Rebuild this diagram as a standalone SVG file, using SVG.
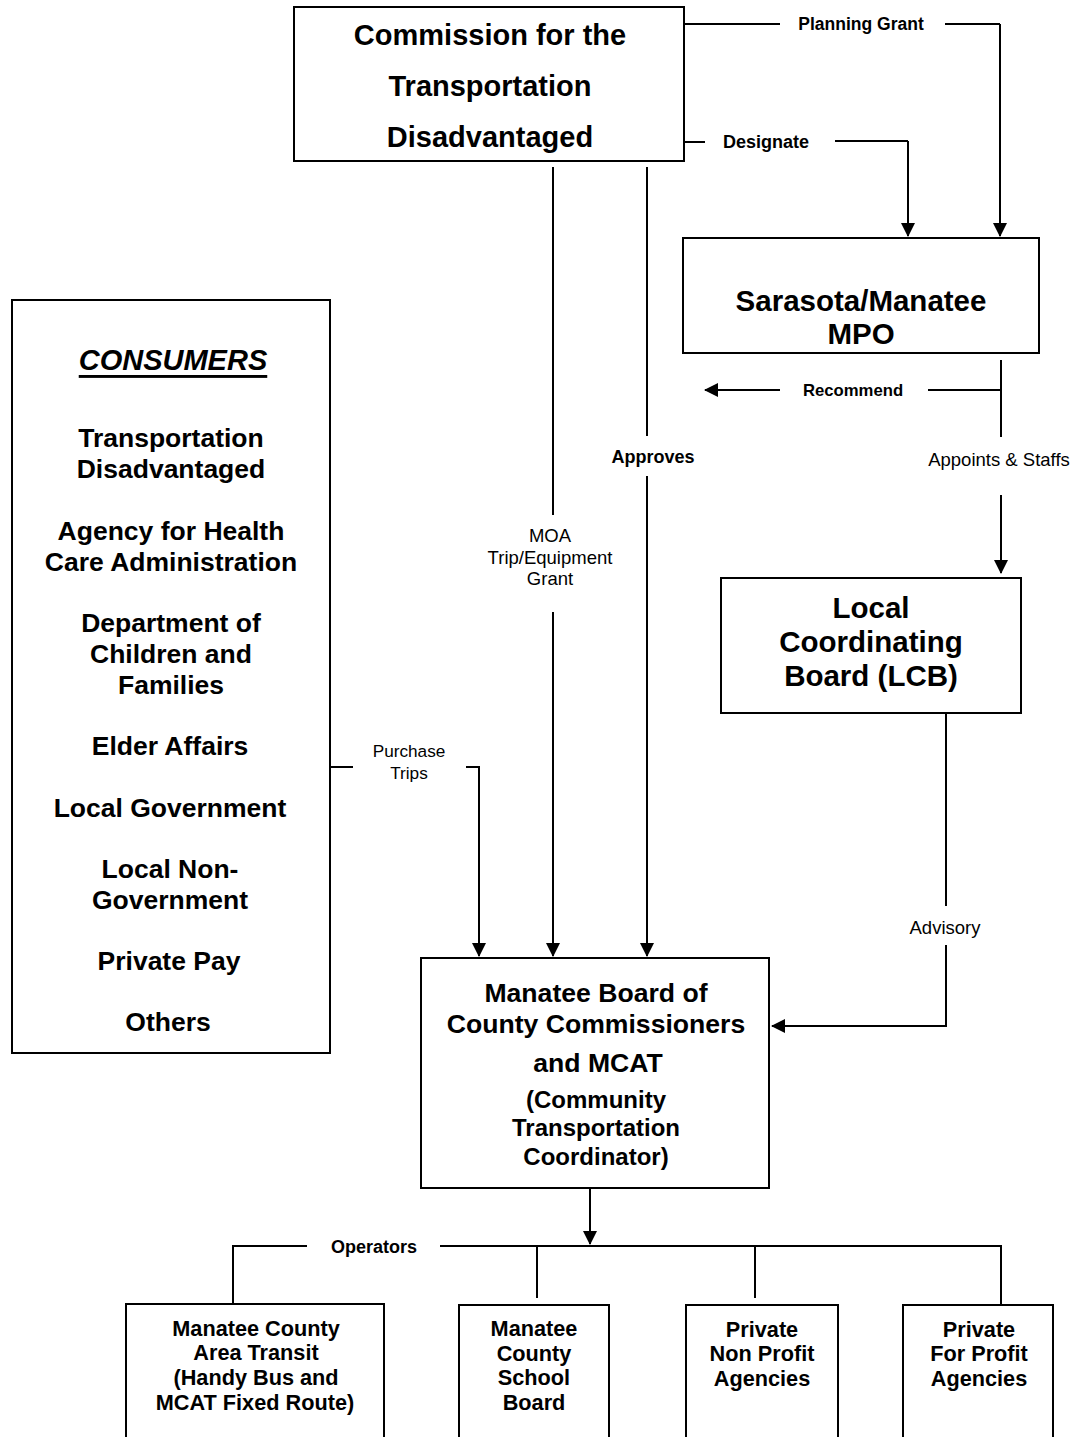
<svg xmlns="http://www.w3.org/2000/svg" width="1075" height="1437" viewBox="0 0 1075 1437">
<defs>
<marker id="ah" markerWidth="14" markerHeight="14" viewBox="0 0 14 14" refX="13" refY="7" orient="auto" markerUnits="userSpaceOnUse">
<path d="M0,0 L14,7 L0,14 Z" fill="#000"/>
</marker>
</defs>
<style>
.box{fill:#fff;stroke:#000;stroke-width:2}
.ln{fill:none;stroke:#000;stroke-width:2}
.t{font-family:"Liberation Sans",Arial,sans-serif;font-weight:bold;text-anchor:middle;dominant-baseline:central;fill:#000}
.r{font-family:"Liberation Sans",Arial,sans-serif;text-anchor:middle;dominant-baseline:central;fill:#000}
</style>
<rect width="1075" height="1437" fill="#fff"/>
<g id="connectors">
<path class="ln" d="M684,24 H780 M945,24 H1000"/>
<path class="ln" d="M1000,24 V236" marker-end="url(#ah)"/>
<path class="ln" d="M684,142 H705 M835,141 H908"/>
<path class="ln" d="M908,141 V236" marker-end="url(#ah)"/>
<path class="ln" d="M780,390 H705" marker-end="url(#ah)"/>
<path class="ln" d="M928,390 H1001 M1001,360 V437"/>
<path class="ln" d="M1001,495 V573" marker-end="url(#ah)"/>
<path class="ln" d="M946,713 V906"/>
<path class="ln" d="M946,945 V1026 H772" marker-end="url(#ah)"/>
<path class="ln" d="M330,767 H353"/>
<path class="ln" d="M466,767 H479 V956" marker-end="url(#ah)"/>
<path class="ln" d="M553,167 V515"/>
<path class="ln" d="M553,612 V956" marker-end="url(#ah)"/>
<path class="ln" d="M647,167 V436"/>
<path class="ln" d="M647,476 V956" marker-end="url(#ah)"/>
<path class="ln" d="M590,1188 V1244" marker-end="url(#ah)"/>
<path class="ln" d="M440,1246 H1001 V1305 M233,1304 V1246 H307 M537,1246 V1298 M755,1246 V1298"/>
<text class="t" x="861" y="24" font-size="17.5">Planning Grant</text>
<text class="t" x="766" y="142" font-size="18">Designate</text>
<text class="t" x="853" y="390" font-size="16.7">Recommend</text>
<text class="r" x="999" y="459" font-size="18.5">Appoints &amp; Staffs</text>
<text class="r" x="945" y="927" font-size="18.5">Advisory</text>
<text class="r" x="409" y="751" font-size="17.2">Purchase</text>
<text class="r" x="409" y="773" font-size="17.2">Trips</text>
<text class="r" x="550" y="535" font-size="18.5">MOA</text>
<text class="r" x="550" y="557" font-size="18.5">Trip/Equipment</text>
<text class="r" x="550" y="578" font-size="18.5">Grant</text>
<text class="t" x="653" y="457" font-size="18">Approves</text>
<text class="t" x="374" y="1247" font-size="18">Operators</text>
</g>
<g id="ctd">
<rect class="box" x="294" y="7" width="390" height="154"/>
<text class="t" x="490" y="35" font-size="29">Commission for the</text>
<text class="t" x="490" y="86" font-size="29">Transportation</text>
<text class="t" x="490" y="137" font-size="29">Disadvantaged</text>
</g>
<g id="mpo">
<rect class="box" x="683" y="238" width="356" height="115"/>
<text class="t" x="861" y="300" font-size="29.5">Sarasota/Manatee</text>
<text class="t" x="861" y="333" font-size="29.5">MPO</text>
</g>
<g id="lcb">
<rect class="box" x="721" y="578" width="300" height="135"/>
<text class="t" x="871" y="607" font-size="29.5">Local</text>
<text class="t" x="871" y="641" font-size="29.5">Coordinating</text>
<text class="t" x="871" y="675" font-size="29.5">Board (LCB)</text>
</g>
<g id="consumers">
<rect class="box" x="12" y="300" width="318" height="753"/>
<text class="t" x="173" y="360" font-size="29" font-style="italic" text-decoration="underline">CONSUMERS</text>
<text class="t" x="171" y="438" font-size="26.5">Transportation</text>
<text class="t" x="171" y="469" font-size="26.5">Disadvantaged</text>
<text class="t" x="171" y="531" font-size="26.5">Agency for Health</text>
<text class="t" x="171" y="562" font-size="26.5">Care Administration</text>
<text class="t" x="171" y="623" font-size="26.5">Department of</text>
<text class="t" x="171" y="654" font-size="26.5">Children and</text>
<text class="t" x="171" y="685" font-size="26.5">Families</text>
<text class="t" x="170" y="746" font-size="26.5">Elder Affairs</text>
<text class="t" x="170" y="808" font-size="26.5">Local Government</text>
<text class="t" x="170" y="869" font-size="26.5">Local Non-</text>
<text class="t" x="170" y="900" font-size="26.5">Government</text>
<text class="t" x="169" y="961" font-size="26.5">Private Pay</text>
<text class="t" x="168" y="1022" font-size="26.5">Others</text>
</g>
<g id="ctc">
<rect class="box" x="421" y="958" width="348" height="230"/>
<text class="t" x="596" y="993" font-size="26.6">Manatee Board of</text>
<text class="t" x="596" y="1024" font-size="26.6">County Commissioners</text>
<text class="t" x="598" y="1063" font-size="26.6">and MCAT</text>
<text class="t" x="596" y="1099" font-size="24">(Community</text>
<text class="t" x="596" y="1127" font-size="24">Transportation</text>
<text class="t" x="596" y="1156" font-size="24">Coordinator)</text>
</g>
<g id="mcat">
<rect class="box" x="126" y="1304" width="258" height="140"/>
<text class="t" x="256" y="1328" font-size="21.7">Manatee County</text>
<text class="t" x="256" y="1352" font-size="21.7">Area Transit</text>
<text class="t" x="256" y="1377" font-size="21.7">(Handy Bus and</text>
<text class="t" x="255" y="1402" font-size="21.7">MCAT Fixed Route)</text>
</g>
<g id="school">
<rect class="box" x="459" y="1305" width="150" height="140"/>
<text class="t" x="534" y="1328" font-size="21.7">Manatee</text>
<text class="t" x="534" y="1353" font-size="21.7">County</text>
<text class="t" x="534" y="1377" font-size="21.7">School</text>
<text class="t" x="534" y="1402" font-size="21.7">Board</text>
</g>
<g id="nonprofit">
<rect class="box" x="686" y="1305" width="152" height="140"/>
<text class="t" x="762" y="1329" font-size="21.7">Private</text>
<text class="t" x="762" y="1353" font-size="21.7">Non Profit</text>
<text class="t" x="762" y="1378" font-size="21.7">Agencies</text>
</g>
<g id="forprofit">
<rect class="box" x="903" y="1305" width="150" height="140"/>
<text class="t" x="979" y="1329" font-size="21.7">Private</text>
<text class="t" x="979" y="1353" font-size="21.7">For Profit</text>
<text class="t" x="979" y="1378" font-size="21.7">Agencies</text>
</g>
</svg>
